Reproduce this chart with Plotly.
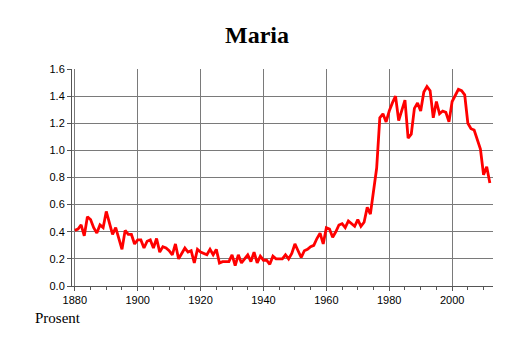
import plotly.graph_objects as go

years = list(range(1880, 2013))
values = [
    0.41, 0.42, 0.45, 0.37, 0.51, 0.49, 0.43, 0.39, 0.45, 0.43,  # 1880-1889
    0.55, 0.47, 0.38, 0.43, 0.34, 0.27, 0.41, 0.38, 0.38, 0.31,  # 1890-1899
    0.34, 0.34, 0.28, 0.33, 0.34, 0.28, 0.35, 0.25, 0.29, 0.28,  # 1900-1909
    0.26, 0.23, 0.31, 0.20, 0.24, 0.28, 0.25, 0.26, 0.17, 0.27,  # 1910-1919
    0.25, 0.24, 0.23, 0.27, 0.23, 0.27, 0.17, 0.18, 0.18, 0.18,  # 1920-1929
    0.23, 0.15, 0.23, 0.17, 0.20, 0.23, 0.18, 0.25, 0.17, 0.22,  # 1930-1939
    0.19, 0.19, 0.16, 0.22, 0.20, 0.20, 0.20, 0.23, 0.20, 0.24,  # 1940-1949
    0.31, 0.26, 0.21, 0.26, 0.27, 0.29, 0.30, 0.35, 0.39, 0.31,  # 1950-1959
    0.43, 0.42, 0.36, 0.40, 0.45, 0.46, 0.43, 0.48, 0.46, 0.44,  # 1960-1969
    0.49, 0.44, 0.47, 0.58, 0.53, 0.70, 0.87, 1.24, 1.27, 1.21,  # 1970-1979
    1.29, 1.35, 1.40, 1.22, 1.30, 1.37, 1.09, 1.12, 1.31, 1.35,  # 1980-1989
    1.29, 1.43, 1.47, 1.44, 1.24, 1.36, 1.27, 1.29, 1.28, 1.21,  # 1990-1999
    1.36, 1.40, 1.45, 1.44, 1.41, 1.20, 1.16, 1.15, 1.08, 1.01,  # 2000-2009
    0.82, 0.88, 0.76,                                            # 2010-2012
]

title_text = "Maria"
y_label = "Prosent"

fig = go.Figure()
fig.add_trace(go.Scatter(
    x=years, y=values, mode="lines",
    line=dict(color="#ff0000", width=2.8),
    hoverinfo="skip", showlegend=False,
))

fig.update_layout(
    width=514, height=343,
    margin=dict(l=72, r=21, t=69, b=57),
    paper_bgcolor="white", plot_bgcolor="white",
    title=dict(text="<b>%s</b>" % title_text, x=0.5, xanchor="center",
               y=1 - 35 / 343, yanchor="middle",
               font=dict(family="Liberation Serif", size=24, color="black")),
    xaxis=dict(
        range=[1879.1, 2013], tick0=1880, dtick=20,
        showgrid=True, gridcolor="#7a7a7a", gridwidth=1,
        showline=True, linecolor="#555555", linewidth=1,
        ticks="outside", ticklen=4, tickcolor="#555555",
        minor=dict(dtick=5, tick0=1880, ticks="outside", ticklen=3, tickcolor="#555555", showgrid=False),
        tickfont=dict(family="Liberation Sans", size=11, color="black"),
        zeroline=False,
    ),
    yaxis=dict(
        range=[0, 1.6], tick0=0, dtick=0.2, tickformat=".1f",
        showgrid=True, gridcolor="#7a7a7a", gridwidth=1,
        showline=True, linecolor="#555555", linewidth=1,
        ticks="outside", ticklen=4, tickcolor="#555555",
        tickfont=dict(family="Liberation Sans", size=11, color="black"),
        zeroline=False,
    ),
    annotations=[dict(
        text=y_label, xref="paper", yref="paper",
        x=(33 - 72) / 421, y=-(318 - 286) / 217, xanchor="left", yanchor="middle",
        showarrow=False, font=dict(family="Liberation Serif", size=15, color="black"),
    )],
)

fig.write_html("out.html")
